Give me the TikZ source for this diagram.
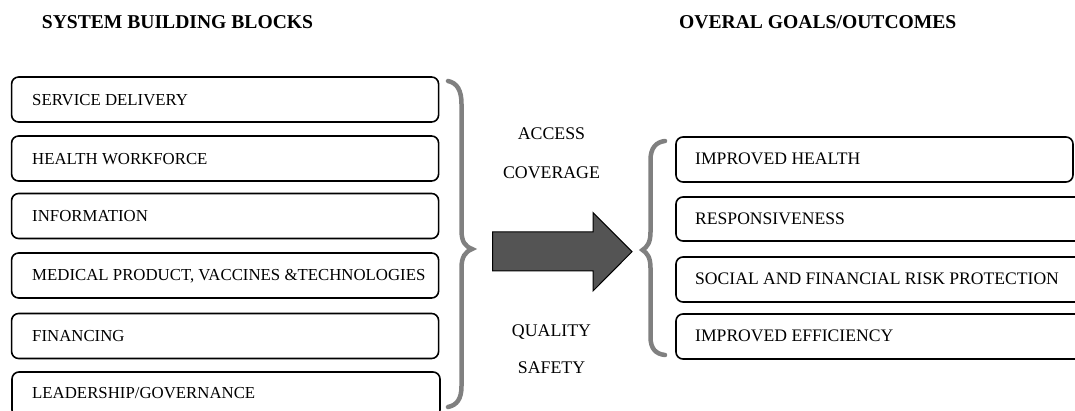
\documentclass[tikz,border=0pt]{standalone}
\usepackage{fontspec}
\setmainfont{Liberation Serif}
\begin{document}
\begin{tikzpicture}[x=1pt,y=-1pt,
  box/.style={draw=black, line width=1.6pt, rounded corners=7pt, inner sep=0pt},
  lbox/.style={box, minimum width=427pt, minimum height=45pt},
  txt/.style={inner sep=0pt, anchor=base west, font=\fontsize{16.8}{20}\selectfont},
  rtxt/.style={txt, font=\fontsize{17.6}{21}\selectfont},
  mtxt/.style={inner sep=0pt, anchor=base, font=\fontsize{17.8}{21}\selectfont},
  ttl/.style={inner sep=0pt, anchor=base west, font=\fontsize{19.6}{23}\selectfont\bfseries},
  brace/.style={draw=black!50, line width=4.5pt, line cap=round},
]
\useasboundingbox (0,0) rectangle (1075,411);
% titles
\node[ttl] (h1) at (41.7,28.3) {SYSTEM BUILDING BLOCKS};
\node[ttl] (h2) at (679,28.3) {OVERAL GOALS/OUTCOMES};
% left boxes
\node[lbox] (b1) at (225.1,99.5) {};
\node[lbox] (b2) at (225.1,158.5) {};
\node[lbox] (b3) at (225.1,216) {};
\node[lbox] (b4) at (225.1,275.5) {};
\node[lbox] (b5) at (225.1,336) {};
\node[lbox, minimum width=428pt] (b6) at (226,394.5) {};
\node[txt] (t1) at (32,105.5) {SERVICE DELIVERY};
\node[txt] (t2) at (32,165) {HEALTH WORKFORCE};
\node[txt] (t3) at (32,221.7) {INFORMATION};
\node[txt] (t4) at (32,280.7) {MEDICAL PRODUCT, VACCINES \&TECHNOLOGIES};
\node[txt] (t5) at (32,341.7) {FINANCING};
\node[txt] (t6) at (32,398) {LEADERSHIP/GOVERNANCE};
% right boxes
\node[box, minimum width=397pt, minimum height=45pt] (r1) at (874.5,159.5) {};
\node[box, minimum width=420pt, minimum height=44pt] (r2) at (886,219) {};
\node[box, minimum width=420pt, minimum height=45pt] (r3) at (886,279.5) {};
\node[box, minimum width=420pt, minimum height=45pt] (r4) at (886,336.5) {};
\node[rtxt] (u1) at (695,165) {IMPROVED HEALTH};
\node[rtxt] (u2) at (695,225) {RESPONSIVENESS};
\node[rtxt] (u3) at (695,285) {SOCIAL AND FINANCIAL RISK PROTECTION};
\node[rtxt] (u4) at (695,341.7) {IMPROVED EFFICIENCY};
% middle texts
\node[mtxt] (m1) at (551.5,139.3) {ACCESS};
\node[mtxt] (m2) at (551.5,178.3) {COVERAGE};
\node[mtxt] (m3) at (551.5,336) {QUALITY};
\node[mtxt] (m4) at (551.5,373) {SAFETY};
% braces
\draw[brace] (448,81) .. controls (457,83) and (461.5,90) .. (461.5,104)
  -- (461.5,230) .. controls (461.5,242) and (465,246) .. (472,249)
  .. controls (465,252) and (461.5,257) .. (461.5,268)
  -- (461.5,386) .. controls (461.5,399) and (457,405) .. (448,407);
\draw[brace] (665,141) .. controls (656,142) and (650.5,148) .. (650.5,160)
  -- (650.5,232) .. controls (650.5,243) and (647,247) .. (642.5,250)
  .. controls (647,253) and (650.5,257) .. (650.5,268)
  -- (650.5,337) .. controls (650.5,349) and (656,354) .. (665,355);
% big arrow
\draw[fill=black!67, draw=black, line width=1pt, line join=miter]
  (492.7,232) -- (593,232) -- (593,212.7) -- (632,251.7) -- (593,291)
  -- (593,271) -- (492.7,271) -- cycle;
\end{tikzpicture}
\end{document}
